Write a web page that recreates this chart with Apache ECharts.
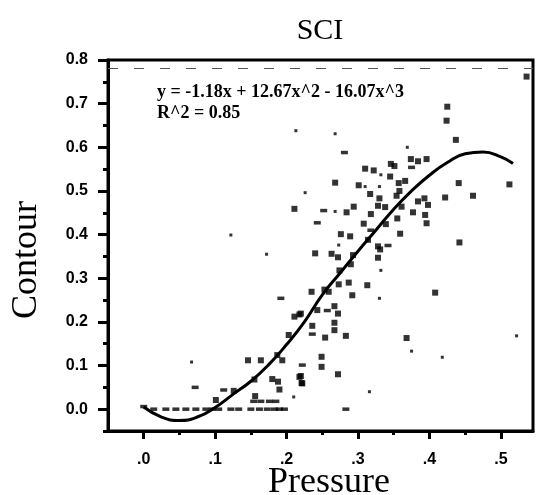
<!DOCTYPE html>
<html>
<head>
<meta charset="utf-8">
<script src="https://cdn.jsdelivr.net/npm/echarts@6/dist/echarts.min.js"></script>
<style>
  html, body { margin: 0; padding: 0; background: #fff; }
  #chart { width: 541px; height: 495px; }
</style>
</head>
<body>
<div id="chart"></div>
<script>
// tick positions
var xMajor = [0, 0.1, 0.2, 0.3, 0.4, 0.5];
var xMinor = [0.05, 0.15, 0.25, 0.35, 0.45];
var yMajor = [0, 0.1, 0.2, 0.3, 0.4, 0.5, 0.6, 0.7, 0.8];
var yMinor = [-0.05, 0.05, 0.15, 0.25, 0.35, 0.45, 0.55, 0.65, 0.75];

// scatter points [pressure, contour]
var pointsBig = [
  [0.536, 0.762], [0.425, 0.693], [0.424, 0.661], [0.437, 0.617],
  [0.374, 0.573], [0.384, 0.568], [0.396, 0.573], [0.346, 0.562], [0.351, 0.557],
  [0.310, 0.551], [0.322, 0.547], [0.345, 0.533], [0.268, 0.519], [0.301, 0.513],
  [0.357, 0.518], [0.366, 0.523], [0.441, 0.518], [0.512, 0.515], [0.317, 0.493],
  [0.358, 0.500], [0.354, 0.489], [0.330, 0.483], [0.461, 0.489], [0.422, 0.485],
  [0.393, 0.483], [0.384, 0.476], [0.398, 0.468], [0.211, 0.459], [0.284, 0.451],
  [0.294, 0.464], [0.328, 0.466], [0.338, 0.463], [0.361, 0.464], [0.318, 0.447],
  [0.377, 0.451], [0.394, 0.445], [0.355, 0.437], [0.396, 0.426], [0.308, 0.425],
  [0.339, 0.424], [0.276, 0.401], [0.289, 0.396], [0.359, 0.402], [0.314, 0.388],
  [0.328, 0.373], [0.331, 0.366], [0.442, 0.382], [0.240, 0.357], [0.263, 0.356],
  [0.272, 0.348], [0.293, 0.353], [0.328, 0.347], [0.290, 0.332], [0.274, 0.318],
  [0.287, 0.290], [0.273, 0.286], [0.313, 0.284], [0.292, 0.261], [0.235, 0.269],
  [0.253, 0.274], [0.259, 0.269], [0.408, 0.267], [0.267, 0.236], [0.243, 0.227],
  [0.272, 0.219], [0.220, 0.219], [0.267, 0.198], [0.236, 0.191], [0.267, 0.181],
  [0.254, 0.164], [0.283, 0.168], [0.368, 0.163], [0.249, 0.120], [0.249, 0.097],
  [0.220, 0.076], [0.222, 0.059], [0.272, 0.080], [0.218, 0.217], [0.211, 0.212],
  [0.203, 0.170], [0.187, 0.124], [0.146, 0.112], [0.164, 0.112], [0.194, 0.112],
  [0.155, 0.068], [0.180, 0.069], [0.188, 0.063], [0.190, 0.045], [0.218, 0.074],
  [0.221, 0.060], [0.126, 0.042], [0.101, 0.021], [0.156, 0.030]
];
var pointsSmall = [
  [0.369, 0.600], [0.268, 0.631], [0.213, 0.638], [0.332, 0.537], [0.310, 0.510],
  [0.330, 0.510], [0.226, 0.496], [0.268, 0.453], [0.273, 0.376], [0.332, 0.318],
  [0.330, 0.254], [0.375, 0.133], [0.418, 0.119], [0.522, 0.168], [0.316, 0.040],
  [0.122, 0.399], [0.172, 0.355], [0.067, 0.108], [0.210, 0.028]
];
var pointsDash = [
  [0.281, 0.588], [0.375, 0.554], [0.252, 0.455], [0.243, 0.427], [0.318, 0.410],
  [0.342, 0.375], [0.257, 0.226], [0.236, 0.172], [0.222, 0.101], [0.283, 0.000],
  [0.192, 0.254], [0.072, 0.050], [0.112, 0.044],
  [0.000, 0.006], [0.014, 0.000], [0.031, 0.000], [0.045, 0.000], [0.059, 0.000],
  [0.073, 0.000], [0.087, 0.000], [0.096, 0.000], [0.105, 0.000], [0.122, 0.000],
  [0.133, 0.000], [0.150, 0.000], [0.162, 0.000], [0.173, 0.000], [0.183, 0.000],
  [0.190, 0.000], [0.197, 0.000],
  [0.154, 0.018], [0.164, 0.018], [0.176, 0.018], [0.185, 0.018]
];

// fitted curve as drawn in the picture
var fitCurve = [
  [0, 0.005], [0.025, -0.018], [0.05, -0.026], [0.075, -0.018], [0.1, 0.004],
  [0.125, 0.034], [0.15, 0.064], [0.175, 0.102], [0.2, 0.148], [0.225, 0.2],
  [0.25, 0.262], [0.275, 0.312], [0.3, 0.362], [0.325, 0.41], [0.35, 0.458],
  [0.375, 0.5], [0.4, 0.536], [0.425, 0.565], [0.45, 0.585], [0.475, 0.589],
  [0.5, 0.578], [0.517, 0.563]
];

var chart = echarts.init(document.getElementById('chart'));

var labelFont = {
  color: '#000',
  fontFamily: '"Liberation Sans", Arial, sans-serif',
  fontWeight: 'bold',
  fontSize: 16
};
var serif = '"Liberation Serif", "Times New Roman", serif';

chart.setOption({
  animation: false,
  backgroundColor: '#fff',
  grid: {
    left: 108, right: 8, top: 60, bottom: 64,
    show: true, borderColor: '#000', borderWidth: 3
  },
  xAxis: [{
    type: 'value', min: -0.05, max: 0.545, position: 'bottom',
    axisLine: { show: true, onZero: false, lineStyle: { color: '#000', width: 3 } },
    axisTick: { show: true, customValues: xMajor, length: 8, lineStyle: { color: '#000', width: 3 } },
    axisLabel: Object.assign({
      customValues: xMajor, margin: 21,
      formatter: function (v) { return '.' + Math.round(v * 10); }
    }, labelFont),
    splitLine: { show: false }
  }, {
    type: 'value', min: -0.05, max: 0.545, position: 'bottom',
    axisLine: { show: false, onZero: false },
    axisTick: { show: true, customValues: xMinor, length: 4, lineStyle: { color: '#000', width: 3 } },
    axisLabel: { show: false },
    splitLine: { show: false }
  }],
  yAxis: [{
    type: 'value', min: -0.05, max: 0.8, position: 'left',
    axisLine: { show: true, onZero: false, lineStyle: { color: '#000', width: 3 } },
    axisTick: { show: true, customValues: yMajor, length: 10, lineStyle: { color: '#000', width: 3 } },
    axisLabel: Object.assign({
      customValues: yMajor, margin: 20,
      formatter: function (v) { return v.toFixed(1); }
    }, labelFont),
    splitLine: { show: false }
  }, {
    type: 'value', min: -0.05, max: 0.8, position: 'left',
    axisLine: { show: false, onZero: false },
    axisTick: { show: true, customValues: yMinor, length: 5, lineStyle: { color: '#000', width: 3 } },
    axisLabel: { show: false },
    splitLine: { show: false }
  }],
  series: [{
    type: 'scatter', data: pointsBig, symbol: 'rect', symbolSize: [6, 6],
    itemStyle: { color: '#000' },
    markLine: {
      silent: true, symbol: 'none', label: { show: false },
      lineStyle: { color: '#555', type: [10, 16], width: 1 },
      data: [{ yAxis: 0.777 }]
    }
  }, {
    type: 'scatter', data: pointsSmall, symbol: 'rect', symbolSize: [3, 3],
    itemStyle: { color: '#000' }
  }, {
    type: 'scatter', data: pointsDash, symbol: 'rect', symbolSize: [7, 3.5],
    itemStyle: { color: '#000' }
  }, {
    type: 'line', data: fitCurve, smooth: true, showSymbol: false,
    lineStyle: { color: '#000', width: 3 }
  }],
  graphic: [{
    type: 'text',
    style: { text: 'SCI', x: 320, y: 31, align: 'center', verticalAlign: 'middle',
      font: '30px ' + serif, fill: '#000' }
  }, {
    type: 'text',
    style: { text: 'Pressure', x: 329, y: 483, align: 'center', verticalAlign: 'middle',
      font: '36px ' + serif, fill: '#000' }
  }, {
    type: 'text', rotation: Math.PI / 2, x: 27, y: 260,
    style: { text: 'Contour', x: 0, y: 0, align: 'center', verticalAlign: 'middle',
      font: '36px ' + serif, fill: '#000' }
  }, {
    type: 'text',
    style: { text: 'y = -1.18x + 12.67x^2 - 16.07x^3', x: 157, y: 92, verticalAlign: 'middle',
      font: 'bold 18px ' + serif, fill: '#000' }
  }, {
    type: 'text',
    style: { text: 'R^2 = 0.85', x: 157, y: 113, verticalAlign: 'middle',
      font: 'bold 18px ' + serif, fill: '#000' }
  }]
});
</script>
</body>
</html>
